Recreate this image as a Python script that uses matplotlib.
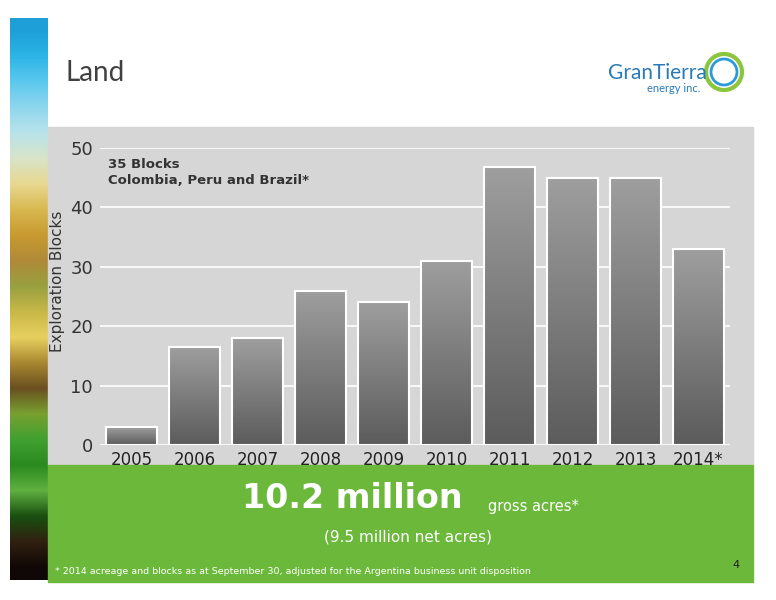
import matplotlib
matplotlib.use("Agg")
import matplotlib.pyplot as plt
import numpy as np
from matplotlib.patches import Rectangle, Ellipse

years = ["2005","2006","2007","2008","2009","2010","2011","2012","2013","2014*"]
blocks = [3, 16.5, 18, 26, 24, 31, 46.8, 45, 45, 33]
yticks = [0, 10, 20, 30, 40, 50]

W, H = 776, 600
fig = plt.figure(figsize=(W/100, H/100), dpi=100)
fig.patch.set_facecolor("white")

def fx(x): return x / W
def fy(y): return 1 - y / H

bg = fig.add_axes([0, 0, 1, 1], zorder=-1)
bg.set_xlim(0, W); bg.set_ylim(H, 0); bg.axis("off")
bg.add_patch(Rectangle((48, 127), 705, 338, color="#d6d6d6"))
bg.add_patch(Rectangle((48, 465), 705, 117, color="#6bb83a"))

# decorative left strip
strip_cols = ["#1e9fd8","#2cb5e6","#5cc8ee","#8fd6ee","#b9e3ea","#d8e4c8","#e8d890",
              "#d8b850","#c89a30","#b08a38","#98a040","#c8b848","#e8d060","#a88830",
              "#6a5020","#78a030","#40a030","#2a8a20","#60b040","#1a5010","#302010","#100806"]
arr = np.array([matplotlib.colors.to_rgb(c) for c in strip_cols])[:, None, :]
bg.imshow(arr, aspect="auto", interpolation="bilinear", extent=[10, 48, 580, 18])
bg.set_xlim(0, W); bg.set_ylim(H, 0)

bg.add_patch(Ellipse((724, 72), 36, 36, fill=False, ec="#8cc63f", lw=3))
bg.add_patch(Ellipse((724, 72), 26, 26, fill=False, ec="#2a9ad8", lw=2))

fig.text(fx(65), fy(73), "Land", fontsize=20, color="#404040", va="center", family="Lato")
fig.text(fx(608), fy(73), "GranTierra", fontsize=15, color="#2a7ab8", va="center", family="Lato")
fig.text(fx(700), fy(88), "energy inc.", fontsize=8, color="#2a7ab8", va="center", ha="right", family="Lato")

ax = fig.add_axes([fx(100), fy(445), fx(630), (445-148)/H])
ax.set_facecolor("none")
for s in ax.spines.values(): s.set_visible(False)
ax.set_yticks(yticks)
ax.set_yticklabels([str(v) for v in yticks], fontsize=13, color="#333333")
ax.tick_params(length=0, pad=5)
ax.yaxis.grid(True, color="white", lw=1.2)
ax.set_axisbelow(True)
ax.set_xticks(range(len(years)))
ax.set_xticklabels(years, fontsize=12, color="#222222")
ax.tick_params(axis="x", pad=4)
ax.set_ylabel("Exploration Blocks", fontsize=11, color="#333333")
ax.yaxis.set_label_coords(-(100-65)/630, 0.55)

grad = np.linspace(0.62, 0.36, 100)[:, None]
for i, v in enumerate(blocks):
    bars = ax.bar(i, v, width=0.82, color="none", edgecolor="white", lw=1.5, zorder=3)
    im = ax.imshow(np.dstack([grad, grad, grad]), extent=[i-0.41, i+0.41, 0, v],
                   aspect="auto", zorder=2, origin="upper")
    im.set_clip_path(bars[0])
ax.set_xlim(-0.5, len(years)-0.5)
ax.set_ylim(0, 50)

fig.text(fx(108), fy(172), "35 Blocks\nColombia, Peru and Brazil*", fontsize=9.5, fontweight="bold",
         color="#333333", va="center", linespacing=1.3)

fig.text(fx(242), fy(498), "10.2 million", fontsize=24, fontweight="bold", color="white", va="center")
fig.text(fx(488), fy(507), "gross acres*", fontsize=10.5, color="white", va="center")
fig.text(fx(408), fy(537), "(9.5 million net acres)", fontsize=11, color="white", va="center", ha="center")
fig.text(fx(55), fy(572), "* 2014 acreage and blocks as at September 30, adjusted for the Argentina business unit disposition",
         fontsize=6.8, color="white", va="center")
fig.text(fx(736), fy(565), "4", fontsize=8, color="#222222", va="center", ha="center")

fig.savefig("out.png", dpi=100)
